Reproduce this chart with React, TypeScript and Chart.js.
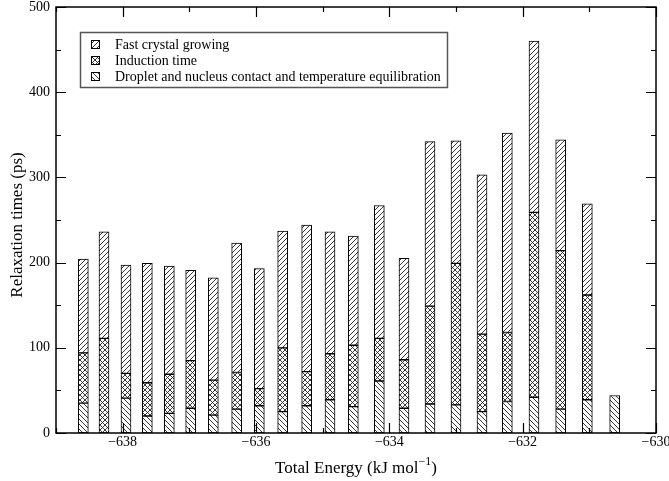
import React, { useEffect, useRef } from "react";
import { Chart, registerables } from "chart.js";

Chart.register(...registerables);

// Total energy of each run (kJ/mol)
const energies = [
  -638.59, -638.28, -637.95, -637.63, -637.3, -636.98, -636.64, -636.29,
  -635.95, -635.6, -635.24, -634.89, -634.54, -634.15, -633.78, -633.39,
  -633.0, -632.61, -632.23, -631.83, -631.43, -631.03, -630.62,
];

// Stage durations (ps), stacked bottom to top
const dropletContact = [
  35, null, 41, 20, 23, 29, 21, 28, 32, 25, 32, 39, 31, 61, 29, 34, 33, 25, 37,
  42, 28, 39, 44,
];
const inductionTime = [
  59, 111, 29, 39, 46, 56, 41, 43, 20, 75, 40, 54, 72, 50, 57, 115, 166, 91, 81,
  217, 186, 123, null,
];
const crystalGrowing = [
  110, 125, 127, 140, 127, 106, 120, 152, 141, 137, 172, 143, 128, 156, 119,
  193, 144, 187, 234, 201, 130, 107, null,
];

const seriesLabels = [
  "Fast crystal growing",
  "Induction time",
  "Droplet and nucleus contact and temperature equilibration",
];

const xTickValues = [-638, -636, -634, -632, -630];
const yTickValues = [0, 100, 200, 300, 400, 500];

const SERIF = "'Liberation Serif', 'Times New Roman', serif";

type Hatch = "up" | "down" | "cross";

function makeHatch(kind: Hatch): CanvasPattern {
  const s = 5;
  const c = document.createElement("canvas");
  c.width = s;
  c.height = s;
  const g = c.getContext("2d")!;
  g.fillStyle = "#ffffff";
  g.fillRect(0, 0, s, s);
  g.strokeStyle = "#222";
  g.lineWidth = 0.9;
  g.beginPath();
  for (let k = -1; k <= 1; k++) {
    if (kind === "up" || kind === "cross") {
      g.moveTo(k * s, s);
      g.lineTo(k * s + s, 0);
    }
    if (kind === "down" || kind === "cross") {
      g.moveTo(k * s, 0);
      g.lineTo(k * s + s, s);
    }
  }
  g.stroke();
  return g.createPattern(c, "repeat")!;
}

export default function App() {
  const canvasRef = useRef<HTMLCanvasElement>(null);

  useEffect(() => {
    const canvas = canvasRef.current!;
    const growPat = makeHatch("up");
    const indPat = makeHatch("cross");
    const dropPat = makeHatch("down");
    const patterns = [growPat, indPat, dropPat];

    const toPoints = (vals: (number | null)[]) =>
      energies.map((x, i) => ({ x, y: vals[i] }));

    const framePlugin = {
      id: "frameAndLegend",
      afterDraw(chart: any) {
        const ctx: CanvasRenderingContext2D = chart.ctx;
        const { left, right, top, bottom } = chart.chartArea;
        const xs = chart.scales.x;
        const ys = chart.scales.y;
        ctx.save();

        // inward ticks on all four sides
        ctx.strokeStyle = "#000";
        ctx.lineWidth = 1.2;
        ctx.beginPath();
        for (let v = -639; v <= -630; v++) {
          const px = Math.round(xs.getPixelForValue(v)) + 0.5;
          const len = v % 2 === 0 ? 10 : 5;
          ctx.moveTo(px, bottom);
          ctx.lineTo(px, bottom - len);
          ctx.moveTo(px, top);
          ctx.lineTo(px, top + len);
        }
        for (let v = 0; v <= 500; v += 50) {
          const py = Math.round(ys.getPixelForValue(v)) + 0.5;
          const len = v % 100 === 0 ? 10 : 5;
          ctx.moveTo(left, py);
          ctx.lineTo(left + len, py);
          ctx.moveTo(right, py);
          ctx.lineTo(right - len, py);
        }
        ctx.stroke();

        // plot frame
        ctx.lineWidth = 1.5;
        ctx.strokeRect(left, top, right - left, bottom - top);

        // legend box
        const lx = 80.5, ly = 32.5, lw = 367, lh = 55;
        ctx.fillStyle = "#fff";
        ctx.fillRect(lx, ly, lw, lh);
        ctx.strokeStyle = "#555";
        ctx.lineWidth = 1.5;
        ctx.strokeRect(lx, ly, lw, lh);
        const rows = [44, 60, 76];
        ctx.font = `14px ${SERIF}`;
        ctx.textBaseline = "middle";
        ctx.textAlign = "left";
        rows.forEach((ry, i) => {
          ctx.fillStyle = patterns[i];
          ctx.fillRect(91, ry - 4, 8, 8);
          ctx.strokeStyle = "#000";
          ctx.lineWidth = 1;
          ctx.strokeRect(91.5, ry - 3.5, 8, 8);
          ctx.fillStyle = "#000";
          ctx.fillText(seriesLabels[i], 115, ry + 1);
        });

        // axis titles
        ctx.fillStyle = "#000";
        ctx.textBaseline = "alphabetic";
        const main = "Total Energy (kJ mol";
        const sup = "\u22121";
        const close = ")";
        ctx.font = `17px ${SERIF}`;
        const wMain = ctx.measureText(main).width;
        const wClose = ctx.measureText(close).width;
        ctx.font = `12px ${SERIF}`;
        const wSup = ctx.measureText(sup).width;
        const total = wMain + wSup + wClose;
        const cx = (left + right) / 2;
        let tx = cx - total / 2;
        const baseY = 473;
        ctx.textAlign = "left";
        ctx.font = `17px ${SERIF}`;
        ctx.fillText(main, tx, baseY);
        tx += wMain;
        ctx.font = `12px ${SERIF}`;
        ctx.fillText(sup, tx, baseY - 8);
        tx += wSup;
        ctx.font = `17px ${SERIF}`;
        ctx.fillText(close, tx, baseY);

        ctx.save();
        ctx.translate(22, (top + bottom) / 2 + 5);
        ctx.rotate(-Math.PI / 2);
        ctx.textAlign = "center";
        ctx.fillText("Relaxation times (ps)", 0, 0);
        ctx.restore();

        ctx.restore();
      },
    };

    const common = {
      borderColor: "#000",
      borderWidth: 1,
      borderSkipped: false,
      barThickness: 10,
    };

    const chart = new Chart(canvas, {
      type: "bar",
      data: {
        datasets: [
          {
            label: seriesLabels[2],
            data: toPoints(dropletContact),
            backgroundColor: dropPat,
            ...common,
          },
          {
            label: seriesLabels[1],
            data: toPoints(inductionTime),
            backgroundColor: indPat,
            ...common,
          },
          {
            label: seriesLabels[0],
            data: toPoints(crystalGrowing),
            backgroundColor: growPat,
            ...common,
          },
        ] as any,
      },
      options: {
        animation: false,
        responsive: false,
        devicePixelRatio: 1,
        layout: { padding: { left: 0, top: 7, right: 13, bottom: 0 } },
        plugins: {
          legend: { display: false },
          tooltip: { enabled: false },
        },
        scales: {
          x: {
            type: "linear",
            min: -639,
            max: -630,
            offset: false,
            stacked: true,
            grid: { display: false, drawTicks: false, offset: false },
            border: { display: false },
            afterBuildTicks: (scale: any) => {
              scale.ticks = xTickValues.map((value) => ({ value }));
            },
            afterFit: (scale: any) => {
              scale.height = 48;
              scale.paddingLeft = 0;
              scale.paddingRight = 0;
            },
            ticks: {
              padding: 1,
              color: "#000",
              font: { family: SERIF, size: 14 },
              maxRotation: 0,
              autoSkip: false,
              callback: (v: any) => String(v).replace("-", "\u2212"),
            },
          },
          y: {
            type: "linear",
            min: 0,
            max: 500,
            stacked: true,
            grid: { display: false, drawTicks: false },
            border: { display: false },
            afterBuildTicks: (scale: any) => {
              scale.ticks = yTickValues.map((value) => ({ value }));
            },
            afterFit: (scale: any) => {
              scale.width = 56;
              scale.paddingTop = 0;
              scale.paddingBottom = 0;
            },
            ticks: {
              padding: 6,
              color: "#000",
              font: { family: SERIF, size: 14 },
            },
          },
        },
      },
      plugins: [framePlugin],
    } as any);

    return () => chart.destroy();
  }, []);

  return (
    <div
      style={{
        position: "fixed",
        left: 0,
        top: 0,
        width: 669,
        height: 481,
        background: "#fff",
      }}
    >
      <canvas
        ref={canvasRef}
        width={669}
        height={481}
        style={{ display: "block", width: 669, height: 481 }}
      />
    </div>
  );
}
